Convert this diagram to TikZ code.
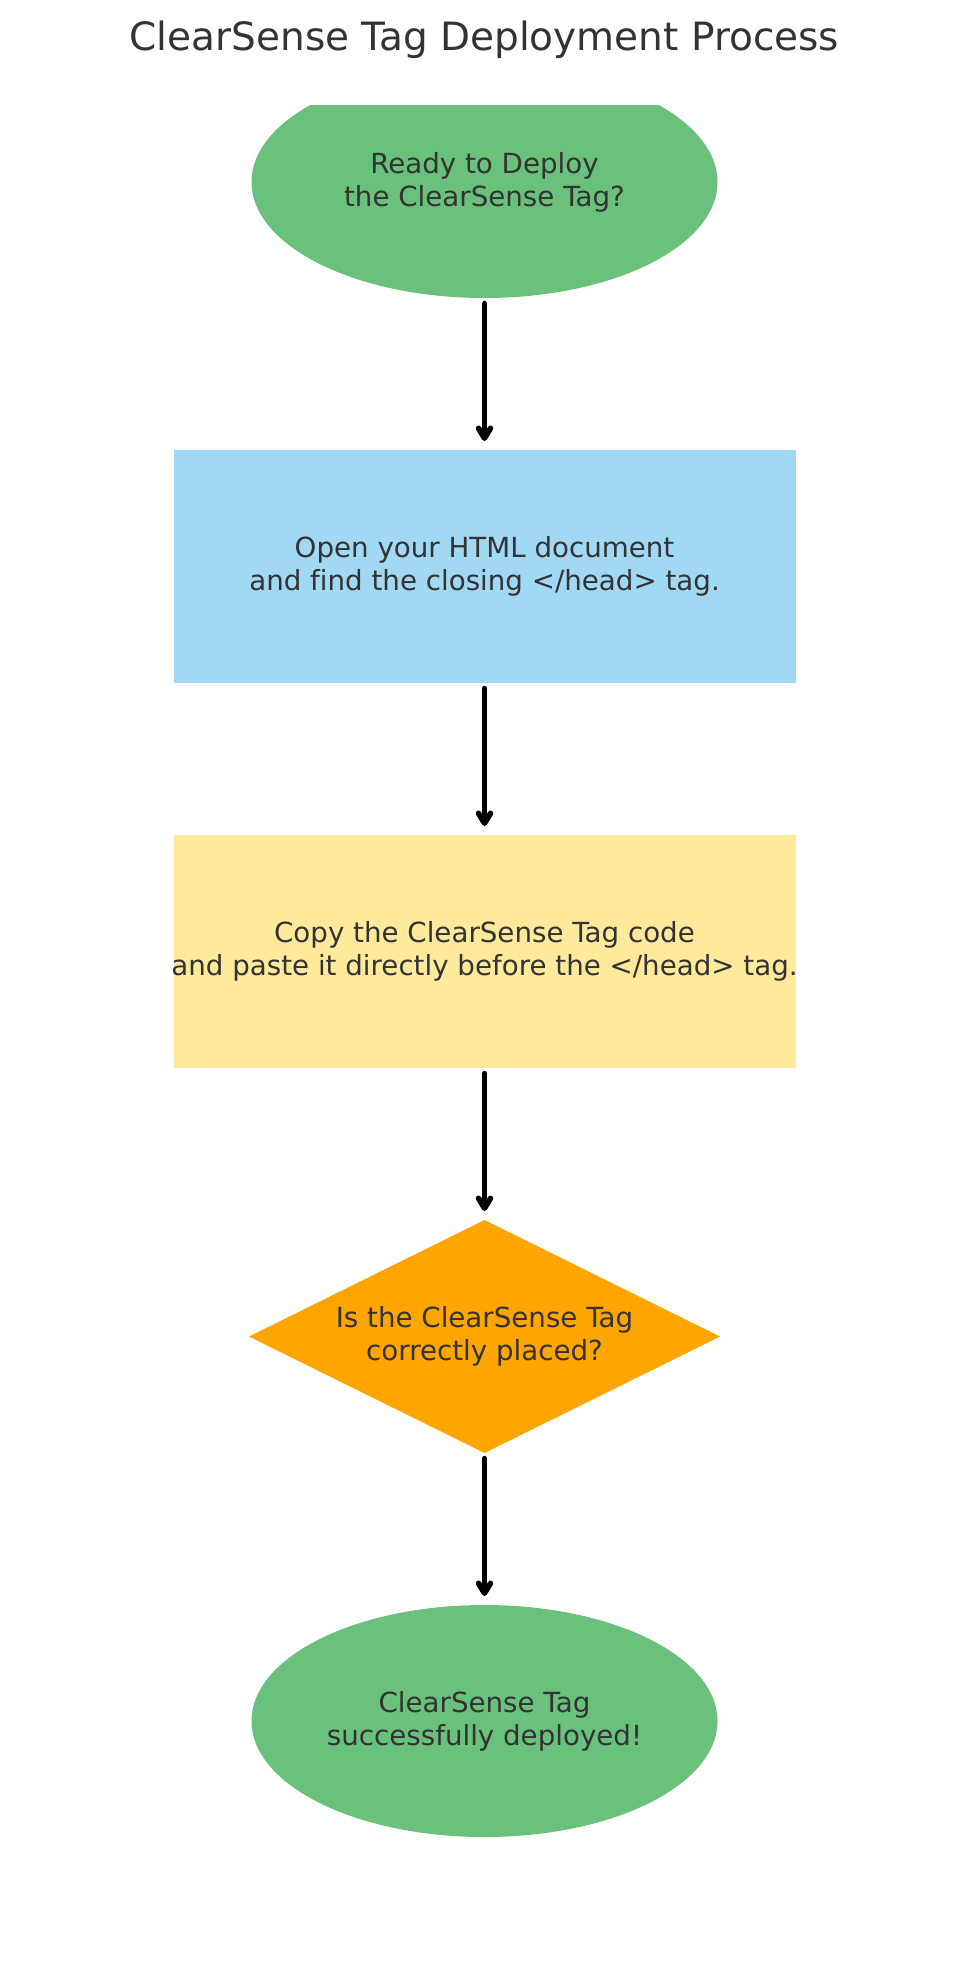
\documentclass[tikz,border=0pt]{standalone}
\usepackage{fontspec}
\setmainfont{DejaVu Sans}[Ligatures=NoCommon]
\usetikzlibrary{positioning,shapes.geometric,arrows.meta}
\definecolor{startgreen}{HTML}{69C17B}
\definecolor{stepblue}{HTML}{A1D8F3}
\definecolor{stepyellow}{HTML}{FFE99A}
\definecolor{checkorange}{HTML}{FFA500}
\definecolor{textgray}{HTML}{333333}

\begin{document}
\begin{tikzpicture}[x=1pt,y=1pt,node distance=152pt,
  every node/.style={inner sep=0pt,outer sep=0pt,align=center,text=textgray,font=\fontsize{27.7}{33.2}\selectfont},
  terminal/.style={ellipse,fill=startgreen,minimum width=466pt,minimum height=232pt},
  stepbox/.style={rectangle,minimum width=622pt,minimum height=233pt,inner xsep=-10pt},
  check/.style={diamond,aspect=2,fill=checkorange,minimum width=471pt,minimum height=233pt},
  flow/.style={line width=5.5pt,line cap=round,-{Straight Barb[length=10pt,width=12pt,round]},
    shorten <=5.5pt,shorten >=9pt}]
  \useasboundingbox (0,0) rectangle (969,-1973);
  \node (title) [anchor=base,font=\fontsize{39}{47}\selectfont] at (484.5,-50)
    {ClearSense Tag Deployment Process};
  \begin{scope}
  \clip (0,-105) rectangle (969,-1973);
  \node (ready) [terminal] at (484.5,-182) {Ready to Deploy\\the ClearSense Tag?};
  \node (open) [stepbox,fill=stepblue,below=of ready] {Open your HTML document\\and find the closing </head> tag.};
  \node (paste) [stepbox,fill=stepyellow,below=of open] {Copy the ClearSense Tag code\\and paste it directly before the </head> tag.};
  \node (placed) [check,below=of paste] {Is the ClearSense Tag\\correctly placed?};
  \node (done) [terminal,below=of placed] {ClearSense Tag\\successfully deployed!};
  \end{scope}
  \path[flow]
    (ready) edge (open)
    (open) edge (paste)
    (paste) edge (placed)
    (placed) edge (done);
\end{tikzpicture}
\end{document}
